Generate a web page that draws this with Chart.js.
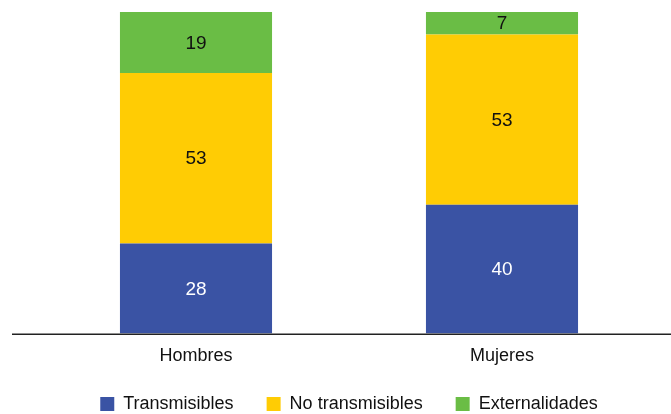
<!DOCTYPE html>
<html><head><meta charset="utf-8">
<script src="https://cdn.jsdelivr.net/npm/chart.js@4/dist/chart.umd.min.js"></script>
<style>html,body{margin:0;padding:0;background:#fff}#wrap{width:671px;height:414px}</style>
</head><body><div id="wrap"><canvas id="c" width="671" height="414"></canvas></div>
<script>
const categories = ["Hombres", "Mujeres"];
const transmisibles = [28, 40];
const noTransmisibles = [53, 53];
const externalidades = [19, 7];
const seriesNames = ["Transmisibles", "No transmisibles", "Externalidades"];
const FONT = "'Liberation Sans', Arial, sans-serif";

const labelPlugin = {
  id: 'labels',
  afterDatasetsDraw(chart) {
    const ctx = chart.ctx;
    ctx.save();
    ctx.font = "19px " + FONT;
    ctx.textAlign = 'center';
    ctx.textBaseline = 'middle';
    chart.data.datasets.forEach((ds, i) => {
      chart.getDatasetMeta(i).data.forEach((bar, j) => {
        const p = bar.getProps(['x', 'y', 'base'], true);
        ctx.fillStyle = i === 0 ? '#ffffff' : '#111111';
        ctx.fillText(String(ds.data[j]), p.x, (p.y + p.base) / 2 + 1);
      });
    });
    ctx.restore();
  }
};
const axisPlugin = {
  id: 'axisLine',
  afterDatasetsDraw(chart) {
    const ctx = chart.ctx, y = chart.chartArea.bottom + 0.75;
    ctx.save();
    ctx.strokeStyle = '#222';
    ctx.lineWidth = 1.5;
    ctx.beginPath(); ctx.moveTo(12, y); ctx.lineTo(671, y); ctx.stroke();
    ctx.restore();
  }
};

new Chart(document.getElementById('c'), {
  type: 'bar',
  data: {
    labels: categories,
    datasets: [
      { label: seriesNames[0], data: transmisibles, backgroundColor: '#3A53A4' },
      { label: seriesNames[1], data: noTransmisibles, backgroundColor: '#FFCC04' },
      { label: seriesNames[2], data: externalidades, backgroundColor: '#6ABD45' }
    ]
  },
  options: {
    responsive: false,
    animation: false,
    devicePixelRatio: 1,
    layout: { padding: { top: 12, left: 43, right: 16, bottom: -9 } },
    datasets: { bar: { categoryPercentage: 1, barPercentage: 0.497 } },
    scales: {
      x: { stacked: true,
           grid: { display: false, drawTicks: true, tickLength: 12 },
           border: { display: false },
           ticks: { color: '#111', font: { family: FONT, size: 18 }, padding: 0 } },
      y: { stacked: true, display: false, min: 0, max: 100 }
    },
    plugins: {
      legend: { position: 'bottom',
        labels: { boxWidth: 14, boxHeight: 14, color: '#111', padding: 28,
                  font: { family: FONT, size: 18 },
                  generateLabels(chart) {
                    const items = Chart.defaults.plugins.legend.labels.generateLabels(chart);
                    items.forEach((it, i) => { if (i < items.length - 1) it.text = it.text + ' '; });
                    return items;
                  } } },
      tooltip: { enabled: false }
    }
  },
  plugins: [labelPlugin, axisPlugin]
});
</script></body></html>
